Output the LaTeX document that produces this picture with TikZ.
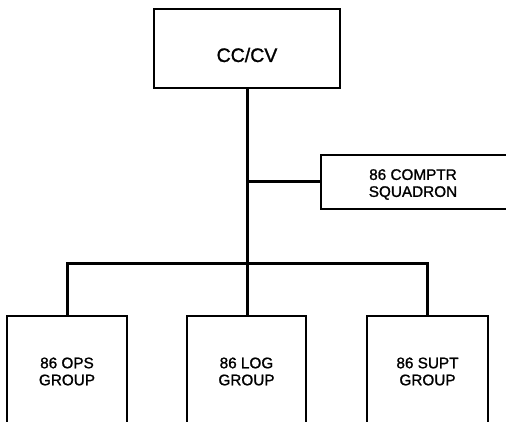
\documentclass[tikz,border=0pt]{standalone}
\usepackage{fontspec}
\setmainfont{Liberation Sans}[BoldFont={Liberation Sans},BoldFeatures={FakeBold=1.2}]
\begin{document}
\begin{tikzpicture}[x=1pt,y=-1pt,
  box/.style={draw, line width=1.1pt, rectangle, inner sep=0pt, outer sep=0pt, anchor=north west},
  conn/.style={line width=3pt},
  lbl/.style={align=center, font=\fontsize{15.3}{17}\selectfont\bfseries},
  toplbl/.style={align=center, font=\fontsize{19.5}{22}\selectfont\bfseries}]
\useasboundingbox (0,0) rectangle (506,422);
\clip (0,0) rectangle (506,422);
% boxes
\node[box, minimum width=186pt, minimum height=79pt] (cc) at (154,9) {};
\node[box, minimum width=200pt, minimum height=54pt] (comptr) at (321,155) {};
\node[box, minimum width=120pt, minimum height=130pt] (ops) at (7,316) {};
\node[box, minimum width=119pt, minimum height=130pt] (log) at (187,316) {};
\node[box, minimum width=121pt, minimum height=130pt] (supt) at (367,316) {};
% labels
\node[toplbl] (cctext) at (247,55) {CC/CV};
\node[lbl] (comptrtext) at (413,184.5) {86 COMPTR\\SQUADRON};
\node[lbl] (opstext) at (67,371.5) {86 OPS\\GROUP};
\node[lbl] (logtext) at (246.5,371.5) {86 LOG\\GROUP};
\node[lbl] (supttext) at (427.5,371.5) {86 SUPT\\GROUP};
% connectors
\coordinate (bus) at (247,263);
\draw[conn] (cc.south) -- (cc.south |- log.north);
\draw[conn] (cc.south |- comptr.west) -- (comptr.west);
\draw[conn] (ops.north) -- (ops.north |- bus) -- (supt.north |- bus) -- (supt.north);
\end{tikzpicture}
\end{document}
